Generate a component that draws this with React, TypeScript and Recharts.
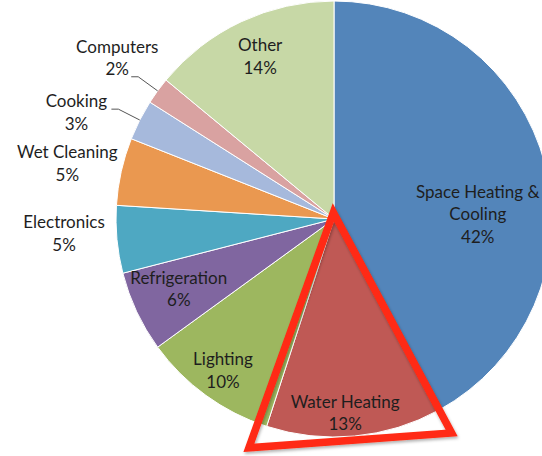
import React from "react";
import { PieChart, Pie, Cell } from "recharts";

// Residential energy end-use shares (%)
const categories = [
  "Space Heating & Cooling",
  "Water Heating",
  "Lighting",
  "Refrigeration",
  "Electronics",
  "Wet Cleaning",
  "Cooking",
  "Computers",
  "Other",
];
const shares = [42, 13, 10, 6, 5, 5, 3, 2, 14];
const highlighted = "Water Heating";

const colors = [
  "#5385BA",
  "#BF5955",
  "#9DB75F",
  "#8066A0",
  "#4EA8C2",
  "#EA9850",
  "#A6B9DC",
  "#D9A2A1",
  "#C7D8A6",
];

// Label placement per slice: radius as a fraction of the pie radius,
// angular nudge (degrees, counter-clockwise positive), and whether a leader line is drawn.
const labelRadius = [0.66, 0.89, 0.86, 0.78, 1.24, 1.25, 1.28, 1.24, 0.82];
const labelNudge = [-12.4, -2.1, -0.3, -1.1, -2.4, 0.7, 4.4, -0.7, -0.8];
const labelLeader = [false, false, false, false, false, false, true, true, false];

const data = categories.map((name, i) => ({ name, value: shares[i] }));

const RAD = Math.PI / 180;
const polar = (cx: number, cy: number, r: number, angle: number): [number, number] => [
  cx + r * Math.cos(-angle * RAD),
  cy + r * Math.sin(-angle * RAD),
];

// Break long names onto two lines at the last space before the limit
const wrap = (text: string, limit = 16): string[] => {
  if (text.length <= limit) return [text];
  const cut = text.lastIndexOf(" ", limit);
  return [text.slice(0, cut), text.slice(cut + 1)];
};

const FONT = "Lato, 'DejaVu Sans', sans-serif";
const LINE = 22.5;

const renderLabel = (props: any) => {
  const { cx, cy, outerRadius, midAngle, startAngle, endAngle, index, name, value } = props;
  const [lx, ly] = polar(cx, cy, outerRadius * labelRadius[index], midAngle + labelNudge[index]);
  const lines = [...wrap(name), `${value}%`];
  const n = lines.length;

  let leader: React.ReactNode = null;
  if (labelLeader[index]) {
    const [ex, ey] = polar(cx, cy, outerRadius, midAngle);
    const [bx, by] = polar(cx, cy, outerRadius * 1.11, midAngle);
    leader = (
      <polyline
        points={`${ex},${ey} ${bx},${by} ${bx - 7},${by}`}
        fill="none"
        stroke="#555"
        strokeWidth={1}
      />
    );
  }

  let marker: React.ReactNode = null;
  if (name === highlighted) {
    const apex = polar(cx, cy, outerRadius * 0.03, midAngle + 180);
    const right = polar(cx, cy, outerRadius * 1.12, startAngle);
    const left = polar(cx, cy, outerRadius * 1.12, endAngle - 2.4);
    marker = (
      <g>
        <defs>
          <filter id="markShadow" x="-20%" y="-20%" width="140%" height="140%">
            <feDropShadow dx="1" dy="2" stdDeviation="1.5" floodColor="#000" floodOpacity="0.3" />
          </filter>
        </defs>
        <polygon
          points={`${apex[0]},${apex[1]} ${right[0]},${right[1]} ${left[0]},${left[1]}`}
          fill="none"
          stroke="#FF2A12"
          strokeWidth={7.5}
          strokeLinejoin="miter"
          strokeMiterlimit={10}
          filter="url(#markShadow)"
        />
      </g>
    );
  }

  return (
    <g>
      {leader}
      {lines.map((t, i) => (
        <text
          key={i}
          x={lx}
          y={ly + (i - (n - 1) / 2) * LINE}
          textAnchor="middle"
          dominantBaseline="central"
          fontFamily={FONT}
          fontSize={17}
          fill="#1E1E1E"
        >
          {t}
        </text>
      ))}
      {marker}
    </g>
  );
};

export default function App() {
  return (
    <div style={{ position: "absolute", left: 0, top: 0, width: 542, height: 456, background: "#fff" }}>
      <PieChart width={542} height={456} margin={{ top: 0, right: 0, bottom: 0, left: 0 }}>
        <Pie
          data={data}
          dataKey="value"
          nameKey="name"
          cx={334}
          cy={219}
          outerRadius={218}
          startAngle={90}
          endAngle={-270}
          stroke="#fff"
          strokeWidth={1}
          label={renderLabel}
          labelLine={false}
          isAnimationActive={false}
        >
          {data.map((d, i) => (
            <Cell key={d.name} fill={colors[i]} />
          ))}
        </Pie>
      </PieChart>
    </div>
  );
}
